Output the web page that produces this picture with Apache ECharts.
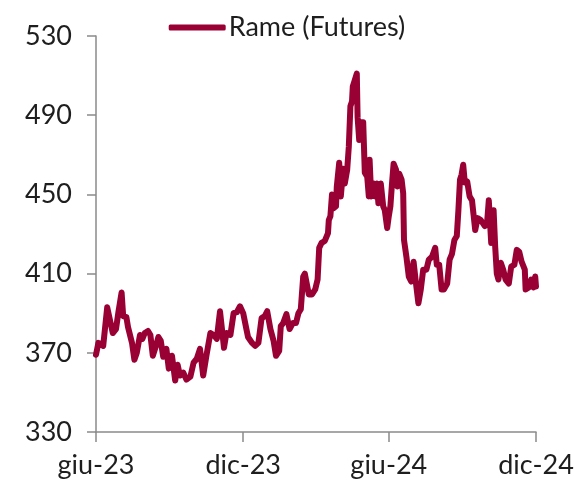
<!DOCTYPE html>
<html>
<head>
<meta charset="utf-8">
<script src="https://cdn.jsdelivr.net/npm/echarts@6/dist/echarts.min.js"></script>
<style>
html,body{margin:0;padding:0;background:#fff;}
#chart{width:574px;height:485px;}
</style>
</head>
<body>
<div id="chart"></div>
<script>
// Serie: Rame (Futures)
var seriesName = 'Rame (Futures)';
var dates = [
'2023-06-30','2023-07-03','2023-07-05','2023-07-09','2023-07-14','2023-07-18','2023-07-21','2023-07-25','2023-07-28','2023-08-01',
'2023-08-03','2023-08-07','2023-08-09','2023-08-14','2023-08-17','2023-08-20','2023-08-24','2023-08-27','2023-08-30','2023-09-03',
'2023-09-06','2023-09-09','2023-09-13','2023-09-16','2023-09-19','2023-09-22','2023-09-26','2023-09-29','2023-10-03','2023-10-07',
'2023-10-10','2023-10-13','2023-10-17','2023-10-21','2023-10-26','2023-10-30','2023-11-03','2023-11-07','2023-11-11','2023-11-15',
'2023-11-20','2023-11-24','2023-11-28','2023-12-02','2023-12-07','2023-12-10','2023-12-15','2023-12-19','2023-12-23','2023-12-27',
'2023-12-31','2024-01-04','2024-01-06','2024-01-11','2024-01-15','2024-01-19','2024-01-23','2024-01-27','2024-01-30','2024-02-03',
'2024-02-07','2024-02-10','2024-02-14','2024-02-16','2024-02-19','2024-02-23','2024-02-27','2024-03-02','2024-03-06','2024-03-09',
'2024-03-12','2024-03-15','2024-03-17','2024-03-22','2024-03-26','2024-03-30','2024-04-02','2024-04-04','2024-04-07','2024-04-11',
'2024-04-15','2024-04-16','2024-04-18','2024-04-20','2024-04-22','2024-04-25','2024-04-26','2024-04-29','2024-05-01','2024-05-04',
'2024-05-06','2024-05-09','2024-05-11','2024-05-13','2024-05-15','2024-05-16','2024-05-18','2024-05-21','2024-05-22','2024-05-24',
'2024-05-26','2024-05-29','2024-05-31','2024-06-03','2024-06-05','2024-06-06','2024-06-08','2024-06-11','2024-06-13','2024-06-15',
'2024-06-17','2024-06-20','2024-06-23','2024-06-25','2024-06-28','2024-06-30','2024-07-02','2024-07-04','2024-07-06','2024-07-09',
'2024-07-11','2024-07-13','2024-07-16','2024-07-18','2024-07-19','2024-07-22','2024-07-25','2024-07-28','2024-07-31','2024-08-03',
'2024-08-06','2024-08-09','2024-08-12','2024-08-16','2024-08-19','2024-08-23','2024-08-27','2024-08-29','2024-09-01','2024-09-04',
'2024-09-07','2024-09-11','2024-09-14','2024-09-17','2024-09-20','2024-09-23','2024-09-25','2024-09-27','2024-09-29','2024-10-01',
'2024-10-03','2024-10-06','2024-10-09','2024-10-12','2024-10-14','2024-10-16','2024-10-19','2024-10-23','2024-10-28','2024-10-31',
'2024-11-02','2024-11-05','2024-11-08','2024-11-10','2024-11-12','2024-11-14','2024-11-17','2024-11-20','2024-11-23','2024-11-27',
'2024-11-30','2024-12-04','2024-12-07','2024-12-10','2024-12-13','2024-12-17','2024-12-18','2024-12-22','2024-12-25','2024-12-28',
'2024-12-30','2024-12-31'
];
var values = [
369,375,376,373.5,393,385.5,380,382,390.5,400.5,
388.5,388,383,375,366.5,370,379,377,380,381,
379,368.5,373.5,378,376,368,372,362,368.5,356,
364,358.5,360,356.5,358,365,367,372,358.5,368.5,
380,379,377,391,372.5,380,379,390,390.5,393.5,
390,382,378,375,373.5,375,387.5,388.5,391,382,
376,368.5,371,383.5,385,389.5,382,385,385,390,
392,408.5,410,399.5,399.5,402,407,423,425.5,426.5,
430.5,437,439,450,443,444,454,466,449,463,
455.5,462.5,474,494.5,497,504.5,507,511,489,477.5,
486.5,486.5,461,459,449,467.5,449,455.5,449,455.5,
445.5,455.5,444,442,433,439,444,455.5,465.5,462.5,
454,460.5,457.5,450.5,427,418.5,408.5,406,416,405,
395,402,412,412,417,418.5,423,414.5,414.5,402,
402,405,417,420,427,429,442,457.5,460,465,
456,456.5,449,447,439.5,432,438,437,434,436.5,
447,425.5,442,423.5,410,407,415.5,412,407,405,
413.5,414.5,422,421,416,412,402,403,407,403,
408.5,403.5
];
var xStart = '2023-06-30';
var xEnd = '2024-12-31';
var xTickDates = ['2023-06-30','2023-12-31','2024-06-30','2024-12-31'];
var xTickLabels = ['giu-23','dic-23','giu-24','dic-24'];
var yMin = 330, yMax = 530, yStep = 40;

var DAY = 86400000;
function toUTC(s){
  var p = s.split('-');
  return Date.UTC(+p[0], +p[1]-1, +p[2]);
}
var t0 = toUTC(xStart);
function dayOf(s){ return Math.round((toUTC(s) - t0) / DAY); }
var tickDays = xTickDates.map(dayOf);
var seriesData = dates.map(function(d, i){ return [dayOf(d), values[i]]; });

var textColor = '#1e1e1e';
var axisColor = '#8a8a8a';
var lineColor = '#990033';
var font = 'Lato, "Open Sans", sans-serif';

var chart = echarts.init(document.getElementById('chart'), null, {renderer:'canvas'});
chart.setOption({
  backgroundColor: '#ffffff',
  animation: false,
  textStyle: {fontFamily: font},
  legend: {
    show: true,
    left: 'center',
    top: 9,
    itemWidth: 57,
    itemHeight: 6,
    itemGap: 10,
    icon: 'roundRect',
    textStyle: {fontSize: 27, color: textColor, fontFamily: font, padding: [0, 0, 0, -2]},
    itemStyle: {color: lineColor, borderWidth: 0},
    data: [seriesName]
  },
  grid: {
    left: 96, right: 38, top: 36, bottom: 53,
    containLabel: false,
    outerBoundsMode: 'none'
  },
  xAxis: {
    type: 'value',
    min: 0,
    max: dayOf(xEnd),
    axisLine: {show: true, onZero: false, lineStyle: {color: axisColor, width: 1.5}},
    axisTick: {show: true, length: 10, customValues: tickDays, lineStyle: {color: axisColor, width: 1.5}},
    axisLabel: {
      customValues: tickDays,
      margin: 20,
      fontSize: 27,
      color: textColor,
      fontFamily: font,
      formatter: function(v){
        var i = tickDays.indexOf(Math.round(v));
        return i >= 0 ? xTickLabels[i] : '';
      }
    },
    splitLine: {show: false}
  },
  yAxis: {
    type: 'value',
    min: yMin, max: yMax, interval: yStep,
    axisLine: {show: true, lineStyle: {color: axisColor, width: 1.5}},
    axisTick: {show: true, length: 9, lineStyle: {color: axisColor, width: 1.5}},
    axisLabel: {margin: 24, fontSize: 27, color: textColor, fontFamily: font},
    splitLine: {show: false}
  },
  series: [{
    name: seriesName,
    type: 'line',
    data: seriesData,
    showSymbol: false,
    symbol: 'none',
    lineStyle: {width: 6, color: lineColor, cap: 'round', join: 'round'},
    itemStyle: {color: lineColor}
  }]
});
</script>
</body>
</html>
